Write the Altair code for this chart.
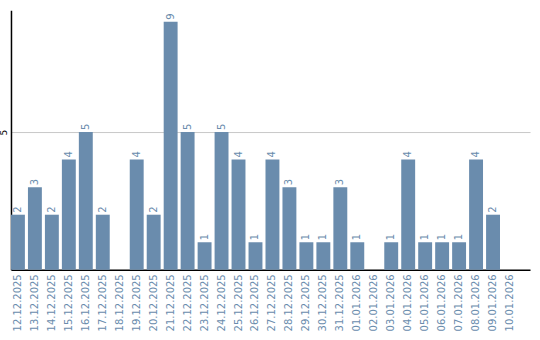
import altair as alt
import pandas as pd

dates = ["12.12.2025","13.12.2025","14.12.2025","15.12.2025","16.12.2025","17.12.2025",
         "18.12.2025","19.12.2025","20.12.2025","21.12.2025","22.12.2025","23.12.2025",
         "24.12.2025","25.12.2025","26.12.2025","27.12.2025","28.12.2025","29.12.2025",
         "30.12.2025","31.12.2025","01.01.2026","02.01.2026","03.01.2026","04.01.2026",
         "05.01.2026","06.01.2026","07.01.2026","08.01.2026","09.01.2026","10.01.2026"]
counts = [2,3,2,4,5,2,0,4,2,9,5,1,5,4,1,4,3,1,1,3,1,0,1,4,1,1,1,4,2,0]

df = pd.DataFrame({"date": dates, "count": counts})
df["label"] = [str(c) if c > 0 else "" for c in counts]

color = "#6a8cad"
font = "DejaVu Sans"

xscale = alt.Scale(paddingInner=0.18, paddingOuter=0.385, align=0)
x = alt.X("date:N", sort=dates, title=None, scale=xscale,
          axis=alt.Axis(labelAngle=-90, labelColor=color, labelFont=font, labelFontSize=10,
                        ticks=False, domainColor="black", domainWidth=1.5, labelPadding=4))
y = alt.Y("count:Q", title=None,
          scale=alt.Scale(domain=[0, 9.42], nice=False),
          axis=alt.Axis(values=[5], grid=True, gridColor="#c8c8c8", ticks=False,
                        labelAngle=-90, labelFont=font, labelFontSize=9, labelColor="black",
                        domainColor="black", domainWidth=1.5, labelPadding=2))

bars = alt.Chart(df).mark_bar(color=color).encode(x=x, y=y)
text = alt.Chart(df).mark_text(angle=270, align="left", baseline="middle", dx=2,
                               color=color, font=font, fontSize=10).encode(
    x=alt.X("date:N", sort=dates, scale=xscale), y="count:Q", text="label:N")

chart = (bars + text).properties(
    width=520, height=260, background="white",
    padding={"left": 0, "top": 10, "right": 10, "bottom": 0}
).configure_view(stroke=None, strokeWidth=0)

chart.save("out.html", embed_options={"renderer": "svg", "actions": False})
